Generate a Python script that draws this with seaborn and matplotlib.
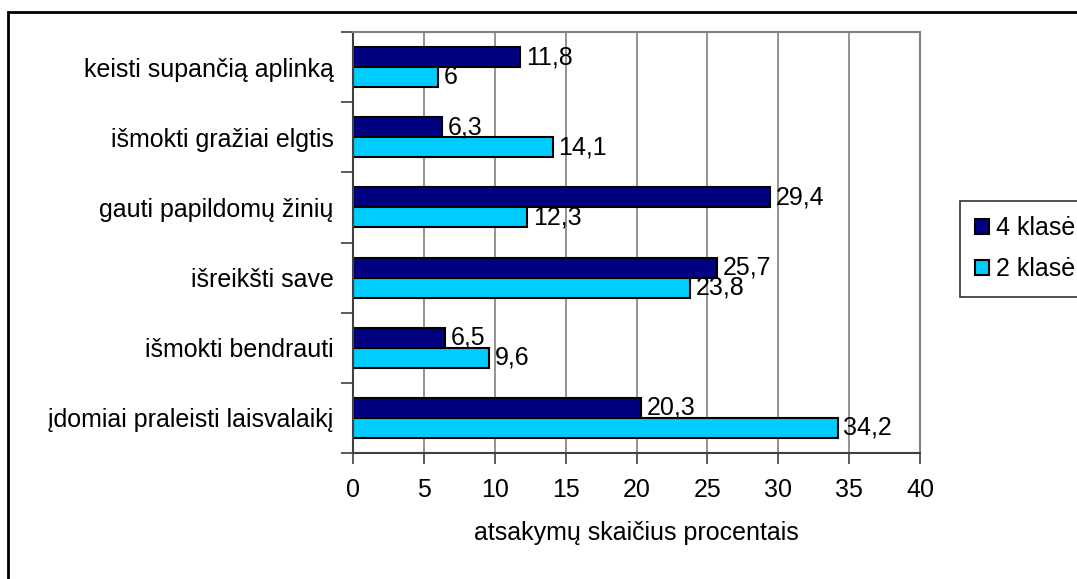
import pandas as pd
import matplotlib
matplotlib.use("Agg")
import matplotlib.pyplot as plt
import seaborn as sns
from matplotlib.patches import Rectangle

categories = [
    "keisti supančią aplinką",
    "išmokti gražiai elgtis",
    "gauti papildomų žinių",
    "išreikšti save",
    "išmokti bendrauti",
    "įdomiai praleisti laisvalaikį",
]
klase4 = [11.8, 6.3, 29.4, 25.7, 6.5, 20.3]
klase2 = [6.0, 14.1, 12.3, 23.8, 9.6, 34.2]
series = ["4 klasė", "2 klasė"]
x_ticks = [0, 5, 10, 15, 20, 25, 30, 35, 40]

df = pd.DataFrame({
    "kategorija": categories * 2,
    "klasė": [series[0]] * len(categories) + [series[1]] * len(categories),
    "procentai": klase4 + klase2,
})

sns.set_style("white")
plt.rcParams["font.family"] = ["Liberation Sans", "DejaVu Sans"]
plt.rcParams.update({"text.color": "black", "axes.labelcolor": "black",
                     "xtick.color": "black", "ytick.color": "black"})
fs = 18

fig = plt.figure(figsize=(10.77, 5.79), dpi=100)
ax = fig.add_axes([353 / 1077, 1 - 453 / 579, (920 - 353) / 1077, (453 - 32) / 579])

sns.barplot(
    data=df, y="kategorija", x="procentai", hue="klasė",
    order=categories, hue_order=series,
    palette=["#000080", "#00CCFF"], saturation=1, width=0.57, gap=0,
    edgecolor="black", linewidth=1.5, ax=ax, legend=True,
)

for cont in ax.containers:
    labs = [f"{v:g}".replace(".", ",") for v in cont.datavalues]
    ax.bar_label(cont, labels=labs, padding=4, fontsize=fs, color="black")

ax.set_xlim(0, 40)
ax.set_ylim(len(categories) - 0.5, -0.5)
ax.set_xticks(x_ticks)
ax.set_xticklabels([str(t) for t in x_ticks], fontsize=fs)
ax.xaxis.grid(True, color="#808080", linewidth=1.2)
ax.set_axisbelow(True)

ax.set_yticks([i - 0.5 for i in range(len(categories) + 1)])
ax.set_yticklabels([])
ax.set_yticks(range(len(categories)), minor=True)
ax.set_yticklabels(categories, minor=True, fontsize=fs)
ax.tick_params(axis="y", which="minor", length=0, pad=14, labelcolor="black")
ax.tick_params(axis="y", which="major", length=9, width=1.2, color="#404040", direction="out", left=True)
ax.tick_params(axis="x", length=8, width=1.2, color="#404040", direction="out", bottom=True, pad=10,
               labelcolor="black")

for side in ["top", "right"]:
    ax.spines[side].set_visible(True)
    ax.spines[side].set_color("#808080")
    ax.spines[side].set_linewidth(1.5)
for side in ["left", "bottom"]:
    ax.spines[side].set_color("#404040")
    ax.spines[side].set_linewidth(1.5)

ax.set_ylabel("")
ax.set_xlabel("atsakymų skaičius procentais", fontsize=fs, labelpad=14, color="black")

handles, labels = ax.get_legend_handles_labels()
ax.get_legend().remove()
leg = fig.legend(
    handles, labels, loc="upper left",
    bbox_to_anchor=(960 / 1077, 1 - 201 / 579), borderaxespad=0,
    fontsize=fs, frameon=True, fancybox=False, handlelength=0.55, handleheight=0.55,
    handletextpad=0.3, labelspacing=0.7, borderpad=0.6, labelcolor="black",
)
leg.get_frame().set_edgecolor("black")
leg.get_frame().set_linewidth(1.2)

fig.patches.append(Rectangle((8 / 1077, -0.1), 1.2, 1 - 12 / 579 + 0.1,
                             transform=fig.transFigure, fill=False,
                             edgecolor="black", linewidth=2))

fig.savefig("out.png", dpi=100)
